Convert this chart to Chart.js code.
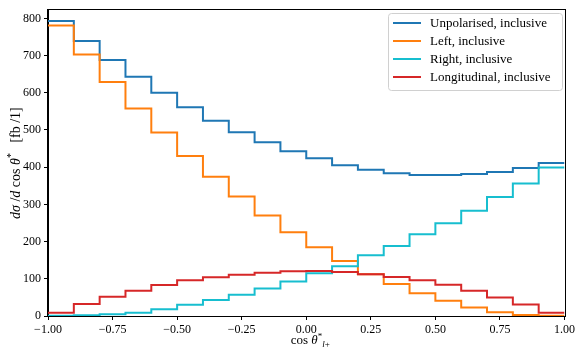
<!DOCTYPE html>
<html>
<head>
<meta charset="utf-8">
<script src="https://cdn.jsdelivr.net/npm/chart.js@4"></script>
<style>
  html, body { margin: 0; padding: 0; background: #fff; }
  #wrap { width: 578px; height: 350px; }
</style>
</head>
<body>
<div id="wrap"><canvas id="chart"></canvas></div>
<script>
// bin edges of cos(theta*) histogram
const binEdges = [-1.0, -0.9, -0.8, -0.7, -0.6, -0.5, -0.4, -0.3, -0.2, -0.1, 0.0,
  0.1, 0.2, 0.3, 0.4, 0.5, 0.6, 0.7, 0.8, 0.9, 1.0];
const xTicks = [-1.0, -0.75, -0.5, -0.25, 0.0, 0.25, 0.5, 0.75, 1.0];
const yTicks = [0, 100, 200, 300, 400, 500, 600, 700, 800];

const seriesLabels = ['Unpolarised, inclusive', 'Left, inclusive', 'Right, inclusive', 'Longitudinal, inclusive'];
const seriesColors = ['#1f77b4', '#ff7f0e', '#17becf', '#d62728'];

// values per bin, fb
const unpolarised = [793, 739, 688, 643, 600, 561, 525, 494, 467, 443, 424, 405, 393, 384, 379, 379, 382, 387, 398, 411];
const left = [781, 703, 629, 558, 493, 430, 374, 321, 270, 225, 185, 148, 112, 86, 61, 41, 23, 10, 3, 1];
const right = [1, 2, 5, 9, 18, 30, 43, 57, 74, 93, 115, 134, 163, 188, 220, 249, 283, 320, 356, 399];
const longitudinal = [9, 32, 52, 68, 83, 96, 104, 111, 116, 120, 121, 118, 112, 105, 96, 84, 68, 50, 31, 9];

const serif = "'Liberation Serif', 'DejaVu Serif', serif";

function toSteps(values) {
  const pts = values.map((v, i) => ({ x: binEdges[i], y: v }));
  pts.push({ x: binEdges[binEdges.length - 1], y: values[values.length - 1] });
  return pts;
}

function fmtTick(v) {
  return v.toFixed(2).replace('-', '\u2212');
}

function pieceFont(style, size) {
  if (style === 'i') return 'italic ' + size + 'px ' + serif;
  if (style === 'sup' || style === 'sub') return Math.round(size * 0.7) + 'px ' + serif;
  if (style === 'subi') return 'italic ' + Math.round(size * 0.7) + 'px ' + serif;
  return size + 'px ' + serif;
}

// draws a list of [text, style] pieces starting at x
function drawPieces(ctx, pieces, x, y, size) {
  pieces.forEach(([text, style]) => {
    let dy = 0;
    if (style === 'sup') dy = -size * 0.4;
    if (style === 'sub' || style === 'subi') dy = size * 0.25;
    ctx.font = pieceFont(style, size);
    ctx.fillText(text, x, y + dy);
    x += ctx.measureText(text).width;
  });
}

function piecesWidth(ctx, pieces, size) {
  let w = 0;
  pieces.forEach(([text, style]) => {
    ctx.font = pieceFont(style, size);
    w += ctx.measureText(text).width;
  });
  return w;
}

const framePlugin = {
  id: 'frame',
  afterDatasetsDraw(chart) {
    const { ctx, chartArea: a } = chart;
    ctx.save();
    ctx.strokeStyle = '#000';
    ctx.lineWidth = 1;
    ctx.strokeRect(Math.round(a.left) - 0.5, Math.round(a.top) - 0.5,
      Math.round(a.right - a.left) + 1, Math.round(a.bottom - a.top) + 1);
    ctx.restore();
  }
};

const legendPlugin = {
  id: 'boxLegend',
  afterDraw(chart) {
    const { ctx } = chart;
    const x0 = 388, y0 = 13, w = 174, h = 77, r = 3;
    ctx.save();
    ctx.beginPath();
    ctx.roundRect(x0 + 0.5, y0 + 0.5, w, h, r);
    ctx.fillStyle = 'rgba(255,255,255,0.8)';
    ctx.fill();
    ctx.strokeStyle = '#d0d0d0';
    ctx.lineWidth = 1;
    ctx.stroke();
    ctx.font = '13px ' + serif;
    ctx.textBaseline = 'middle';
    chart.data.datasets.forEach((ds, i) => {
      const yy = y0 + 10 + i * 18;
      ctx.strokeStyle = ds.borderColor;
      ctx.lineWidth = 2;
      ctx.beginPath();
      ctx.moveTo(393, yy);
      ctx.lineTo(421, yy);
      ctx.stroke();
      ctx.fillStyle = '#000';
      ctx.fillText(ds.label, 430, yy + 1);
    });
    ctx.restore();
  }
};

const axisTitlePlugin = {
  id: 'axisTitles',
  afterDraw(chart) {
    const { ctx, chartArea: a } = chart;
    ctx.save();
    ctx.fillStyle = '#000';
    ctx.textBaseline = 'alphabetic';
    // x title
    const xp = [['cos ', 'r'], ['\u03b8', 'i'], ['*', 'sup'], ['l', 'subi'], ['+', 'sub']];
    const xw = piecesWidth(ctx, xp, 13);
    drawPieces(ctx, xp, (a.left + a.right) / 2 - xw / 2 + 4, 344, 13);
    // y title
    const yp = [['d\u03c3', 'i'], [' /', 'r'], ['d', 'i'], [' cos ', 'r'], ['\u03b8', 'i'], ['*', 'sup'], ['   [fb /1]', 'r']];
    const yw = piecesWidth(ctx, yp, 14);
    ctx.translate(20, (a.top + a.bottom) / 2);
    ctx.rotate(-Math.PI / 2);
    drawPieces(ctx, yp, -yw / 2, 0, 14);
    ctx.restore();
  }
};

const datasets = [unpolarised, left, right, longitudinal].map((vals, i) => ({
  label: seriesLabels[i],
  data: toSteps(vals),
  borderColor: seriesColors[i],
  backgroundColor: seriesColors[i],
  borderWidth: 2,
  stepped: true,
  pointRadius: 0,
  fill: false,
  order: 4 - i
}));

new Chart(document.getElementById('chart'), {
  type: 'line',
  data: { datasets: datasets },
  options: {
    responsive: true,
    maintainAspectRatio: false,
    animation: false,
    layout: { padding: { top: 6, right: 11, left: 0, bottom: 0 } },
    plugins: {
      legend: { display: false },
      tooltip: { enabled: false }
    },
    scales: {
      x: {
        type: 'linear',
        min: -1,
        max: 1,
        afterBuildTicks: (s) => { s.ticks = xTicks.map((v) => ({ value: v })); },
        afterFit: (s) => { s.height = 34; },
        ticks: {
          callback: (v) => fmtTick(v),
          color: '#000',
          font: { family: serif, size: 12 },
          padding: 3,
          maxRotation: 0,
          autoSkip: false
        },
        grid: { drawOnChartArea: false, drawTicks: true, tickLength: 4, color: '#000' },
        border: { display: true, color: '#000', width: 1 }
      },
      y: {
        type: 'linear',
        min: 0,
        max: 822,
        afterBuildTicks: (s) => { s.ticks = yTicks.map((v) => ({ value: v })); },
        afterFit: (s) => { s.width = 48; },
        ticks: {
          color: '#000',
          font: { family: serif, size: 12 },
          padding: 3,
          autoSkip: false
        },
        grid: { drawOnChartArea: false, drawTicks: true, tickLength: 4, color: '#000' },
        border: { display: true, color: '#000', width: 1 }
      }
    }
  },
  plugins: [framePlugin, legendPlugin, axisTitlePlugin]
});
</script>
</body>
</html>
